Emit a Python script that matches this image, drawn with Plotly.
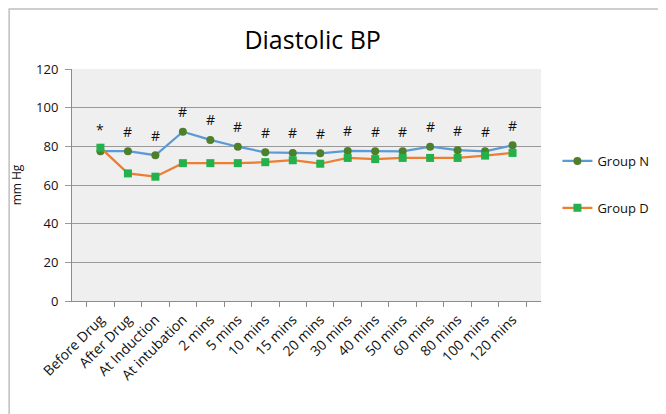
import plotly.graph_objects as go

categories = ["Before Drug", "After Drug", "At Induction", "At intubation", "2 mins", "5 mins",
              "10 mins", "15 mins", "20 mins", "30 mins", "40 mins", "50 mins", "60 mins",
              "80 mins", "100 mins", "120 mins"]
group_n = [77.5, 77.5, 75.4, 87.6, 83.3, 79.8, 76.9, 76.6, 76.4, 77.6, 77.4, 77.4, 79.8, 78.0, 77.4, 80.5]
group_d = [79.3, 66.0, 64.3, 71.3, 71.3, 71.3, 71.8, 72.8, 71.0, 74.0, 73.4, 74.0, 74.0, 74.0, 75.2, 76.6]
sig_marks = ["*"] + ["#"] * 15
y_ticks = [0, 20, 40, 60, 80, 100, 120]

FONT = "Open Sans"

fig = go.Figure()
fig.add_trace(go.Scatter(
    x=categories, y=group_n, name="Group N", mode="lines+markers",
    line=dict(color="#5b9bd5", width=2.25),
    marker=dict(symbol="circle", size=8, color="#4e7f2a"),
    legendgroup="n"))
fig.add_trace(go.Scatter(
    x=categories, y=group_d, name="Group D", mode="lines+markers",
    line=dict(color="#ed7d31", width=2.25),
    marker=dict(symbol="square", size=8, color="#22b14c"),
    legendgroup="d"))

for c, v, s in zip(categories, group_n, sig_marks):
    fig.add_annotation(x=c, y=v, text=s, showarrow=False, yshift=20 if s == "#" else 22,
                       font=dict(family=FONT, size=14, color="#111111"))

fig.add_shape(type="rect", xref="paper", yref="paper", x0=-0.134, x1=1.4, y0=-0.7, y1=1.259,
              line=dict(color="#bfbfbf", width=1.5), fillcolor="rgba(0,0,0,0)", layer="below")

fig.update_layout(
    width=658, height=406,
    margin=dict(l=64, r=125, t=61, b=113, autoexpand=False),
    paper_bgcolor="white", plot_bgcolor="#efefef",
    font=dict(family=FONT, size=12, color="#111111"),
    title=dict(text="Diastolic BP", x=0.463, xanchor="center", y=0.921, yanchor="middle",
               font=dict(family=FONT, size=25, color="#000000")),
    showlegend=True,
    legend=dict(x=1.035, y=0.668, xanchor="left", yanchor="top", tracegroupgap=27, itemwidth=30,
                font=dict(family=FONT, size=13), bgcolor="rgba(0,0,0,0)"),
    xaxis=dict(type="category", tickangle=-45, showgrid=False, showline=True, linecolor="#8c8c8c",
               ticks="outside", tickson="boundaries", ticklen=5, tickcolor="#8c8c8c",
               ticklabelstandoff=4,
               tickfont=dict(family=FONT, size=14), zeroline=False),
    yaxis=dict(range=[0, 120], tickvals=y_ticks, showgrid=True, gridcolor="#999999", gridwidth=1,
               showline=True, linecolor="#8c8c8c", ticks="outside", ticklen=6, tickcolor="#999999",
               ticklabelstandoff=4,
               zeroline=False, tickfont=dict(family=FONT, size=13),
               title=dict(text="mm Hg", font=dict(family=FONT, size=12), standoff=14)),
)

fig.write_html("out.html")
